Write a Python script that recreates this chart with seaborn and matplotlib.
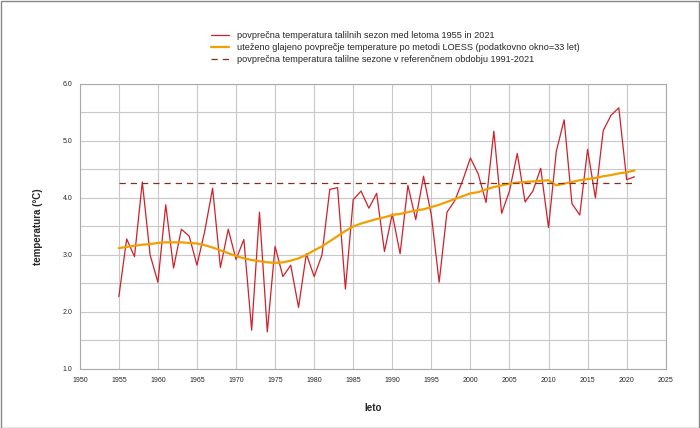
import numpy as np
import pandas as pd
import matplotlib
matplotlib.use("Agg")
import matplotlib.pyplot as plt
import seaborn as sns

# ── Data ──────────────────────────────────────────────────────────────────────
years = list(range(1955, 2022))
temp = [2.27, 3.28, 2.97, 4.28, 3.00, 2.52, 3.88, 2.77, 3.45, 3.33,
        2.82, 3.42, 4.17, 2.78, 3.45, 2.92, 3.27, 1.68, 3.75, 1.65,
        3.15, 2.62, 2.82, 2.08, 3.02, 2.62, 3.00, 4.15, 4.18, 2.40,
        3.97, 4.12, 3.82, 4.08, 3.06, 3.72, 3.02, 4.22, 3.62, 4.38,
        3.70, 2.52, 3.75, 3.95, 4.30, 4.70, 4.42, 3.92, 5.17, 3.73,
        4.12, 4.78, 3.93, 4.12, 4.52, 3.48, 4.82, 5.37, 3.90, 3.70,
        4.85, 4.00, 5.18, 5.45, 5.58, 4.32, 4.37]
loess = [3.12, 3.14, 3.16, 3.18, 3.19, 3.21, 3.22, 3.22, 3.22, 3.21,
         3.20, 3.17, 3.13, 3.08, 3.03, 2.98, 2.94, 2.91, 2.89, 2.87,
         2.86, 2.87, 2.90, 2.94, 3.00, 3.08, 3.15, 3.24, 3.33, 3.42,
         3.50, 3.55, 3.59, 3.63, 3.66, 3.70, 3.72, 3.75, 3.78, 3.80,
         3.84, 3.88, 3.93, 3.98, 4.03, 4.08, 4.10, 4.15, 4.19, 4.22,
         4.25, 4.27, 4.28, 4.29, 4.30, 4.31, 4.22, 4.25, 4.28, 4.31,
         4.33, 4.35, 4.38, 4.40, 4.43, 4.45, 4.48]
ref_mean = 4.27

df = pd.DataFrame({"leto": years, "temp": temp, "loess": loess})

# ── Plot ──────────────────────────────────────────────────────────────────────
sns.set_style("white")
plt.rcParams["font.family"] = ["Liberation Sans", "DejaVu Sans"]

fig = plt.figure(figsize=(7, 4.28), dpi=100)
ax = fig.add_axes([0.114, 0.138, 0.837, 0.666])

sns.lineplot(data=df, x="leto", y="temp", ax=ax, color="#d0202a", lw=0.9,
             label="povprečna temperatura talilnih sezon med letoma 1955 in 2021")
sns.lineplot(data=df, x="leto", y="loess", ax=ax, color="#f0a000", lw=1.6,
             label="uteženo glajeno povprečje temperature po metodi LOESS (podatkovno okno=33 let)")
ax.plot([1955, 2021], [ref_mean, ref_mean], color="#803020", lw=0.9,
        ls=(0, (5, 4)),
        label="povprečna temperatura talilne sezone v referenčnem obdobju 1991-2021")

ax.set_xlim(1950, 2025)
ax.set_ylim(1.0, 6.0)
ax.set_xticks(range(1950, 2026, 5))
yt = np.arange(1.0, 6.01, 0.5)
ax.set_yticks(yt)
ax.set_yticklabels([f"{v:.1f}" if abs(v - round(v)) < 1e-9 else "" for v in yt])
ax.grid(True, color="#c8c8c8", lw=0.8)
ax.tick_params(labelsize=5, length=2, color="#888888")
for s in ax.spines.values():
    s.set_color("#aaaaaa")
    s.set_linewidth(0.8)
ax.set_xlabel("leto", fontsize=7, fontweight="bold", labelpad=14)
ax.set_ylabel("temperatura (°C)", fontsize=7, fontweight="bold", labelpad=14)

ax.legend(loc="lower left", bbox_to_anchor=(0.21, 1.04), frameon=False,
          fontsize=6.6, handlelength=2.0, labelspacing=0.35)

fig.patches.append(plt.Rectangle((0.001, 0.001), 0.998, 0.997, transform=fig.transFigure,
                                 fill=False, edgecolor="#888888", lw=1))
fig.savefig("out.png", dpi=100)
